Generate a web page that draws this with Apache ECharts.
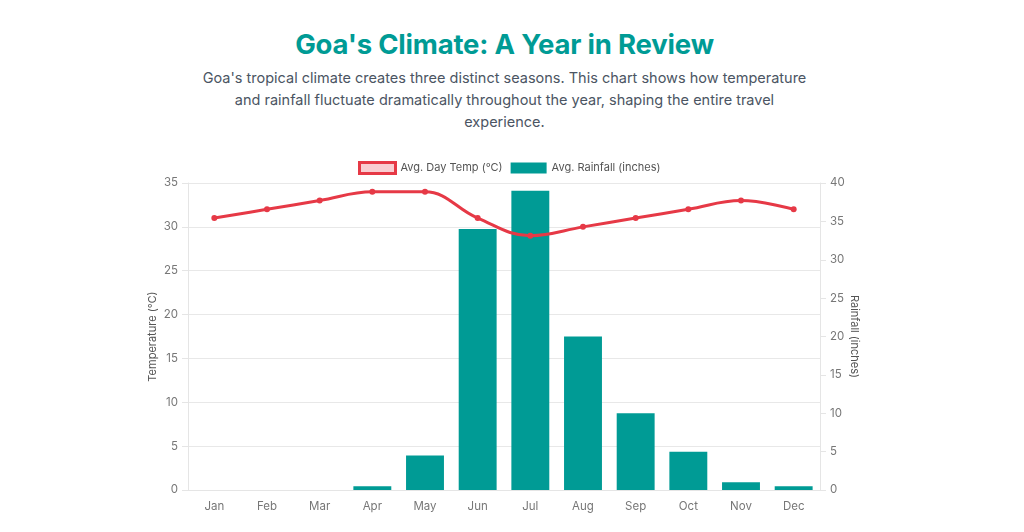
<!DOCTYPE html>
<html><head><meta charset="utf-8">
<script src="https://cdn.jsdelivr.net/npm/echarts@6/dist/echarts.min.js"></script>
<style>
html,body{margin:0;padding:0;background:#fff;width:1024px;height:532px;overflow:hidden;font-family:Inter,"Noto Sans",sans-serif;}
#head{position:absolute;left:0;top:0;width:1009px;text-align:center;}
h1{margin:0;position:absolute;top:27px;width:1009px;font-size:27.5px;font-weight:700;color:#009b95;letter-spacing:-0.2px;}
p{margin:0;position:absolute;top:67px;left:197px;width:615px;font-size:14.5px;line-height:22px;color:#4b5563;}
#chart{position:absolute;left:0;top:0;width:1024px;height:532px;}
</style></head>
<body>
<div id="head"><h1>Goa's Climate: A Year in Review</h1>
<p>Goa's tropical climate creates three distinct seasons. This chart shows how temperature and rainfall fluctuate dramatically throughout the year, shaping the entire travel experience.</p></div>
<div id="chart"></div>
<script>
const months = ['Jan','Feb','Mar','Apr','May','Jun','Jul','Aug','Sep','Oct','Nov','Dec'];
const tempC = [31,32,33,34,34,31,29,30,31,32,33,32];
const rainInches = [0,0,0,0.5,4.5,34,39,20,10,5,1,0.5];
const tempName = 'Avg. Day Temp (°C)';
const rainName = 'Avg. Rainfall (inches)';

const chart = echarts.init(document.getElementById('chart'));
const axisLabel = {color:'#777', fontSize:11.5, fontFamily:'Inter'};
chart.setOption({
  animation:false,
  textStyle:{fontFamily:'Inter'},
  legend:{
    top:156, left:353, itemGap:8, itemWidth:36, itemHeight:11,
    textStyle:{color:'#555', fontSize:11, fontFamily:'Inter'},
    data:[
      {name:tempName, icon:'rect', itemStyle:{color:'rgba(230,57,70,0.25)', borderColor:'#e63946', borderWidth:3}},
      {name:rainName, icon:'rect', itemStyle:{color:'#009b95'}}
    ]
  },
  grid:{left:188, right:204, top:183, bottom:42},
  xAxis:{
    type:'category', data:months, boundaryGap:true,
    axisLine:{lineStyle:{color:'#e5e5e5'}},
    axisTick:{show:false},
    axisLabel:Object.assign({margin:11}, axisLabel),
    splitLine:{show:false}
  },
  yAxis:[
    {type:'value', min:0, max:35, interval:5, position:'left',
     name:'Temperature (°C)', nameLocation:'middle', nameRotate:90, nameGap:30, nameMoveOverlap:false,
     nameTextStyle:{color:'#555', fontSize:11, fontFamily:'Inter'},
     axisLine:{show:true, lineStyle:{color:'#e5e5e5'}},
     axisTick:{show:true, length:6, lineStyle:{color:'#e5e5e5'}},
     axisLabel:Object.assign({margin:10}, axisLabel),
     splitLine:{lineStyle:{color:'#e8e8e8'}}},
    {type:'value', min:0, max:40, interval:5, position:'right',
     name:'Rainfall (inches)', nameLocation:'middle', nameRotate:-90, nameGap:29, nameMoveOverlap:false,
     nameTextStyle:{color:'#555', fontSize:11, fontFamily:'Inter'},
     axisLine:{show:true, lineStyle:{color:'#e5e5e5'}},
     axisTick:{show:true, length:6, lineStyle:{color:'#e5e5e5'}},
     axisLabel:Object.assign({margin:10}, axisLabel),
     splitLine:{show:false}}
  ],
  series:[
    {name:tempName, type:'line', yAxisIndex:0, data:tempC, smooth:0.4, z:5,
     symbol:'circle', symbolSize:6,
     lineStyle:{color:'#e63946', width:3},
     itemStyle:{color:'#e63946'}},
    {name:rainName, type:'bar', yAxisIndex:1, data:rainInches, barWidth:'72%', z:2,
     itemStyle:{color:'#009b95'}}
  ]
});
</script>
</body></html>
